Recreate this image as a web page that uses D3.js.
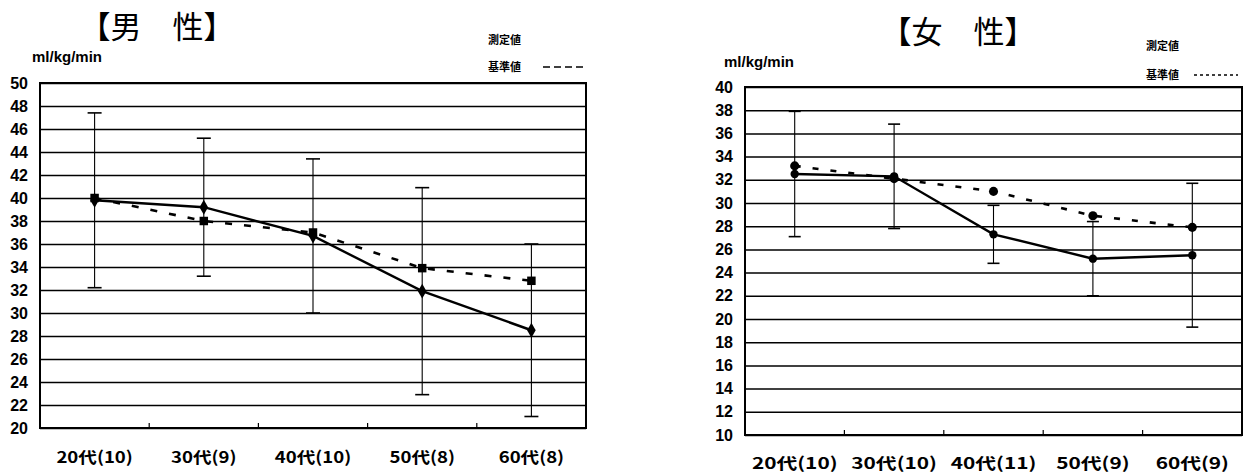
<!DOCTYPE html>
<html>
<head>
<meta charset="utf-8">
<script src="https://cdn.jsdelivr.net/npm/d3@7"></script>
<style>
  html, body { margin: 0; padding: 0; background: #fff; }
  svg { display: block; }
  .yaxis .tick text { font-family: "Liberation Sans", Arial, sans-serif; font-weight: bold; font-size: 16px; fill: #000; }
  .xaxis .tick text { font-family: "Noto Sans CJK JP", sans-serif; font-weight: bold; font-size: 16px; fill: #000; }
</style>
</head>
<body>
<svg id="chart" width="1248" height="475"></svg>
<script>
// 男性: 年代別 最大酸素摂取量 (ml/kg/min)
const maleCategories = ["20代(10)", "30代(9)", "40代(10)", "50代(8)", "60代(8)"];
const maleMeasured   = [39.8, 39.2, 36.7, 31.9, 28.5];   // 測定値 (平均)
const maleSD         = [7.6, 6.0, 6.7, 9.0, 7.5];        // 測定値 (標準偏差)
const maleStandard   = [40.0, 38.0, 37.0, 33.9, 32.8];   // 基準値
const maleTicks      = [20, 22, 24, 26, 28, 30, 32, 34, 36, 38, 40, 42, 44, 46, 48, 50];

// 女性
const femaleCategories = ["20代(10)", "30代(10)", "40代(11)", "50代(9)", "60代(9)"];
const femaleMeasured   = [32.5, 32.3, 27.3, 25.2, 25.5];
const femaleSD         = [5.4, 4.5, 2.5, 3.2, 6.2];
const femaleStandard   = [33.2, 32.1, 31.0, 28.9, 27.9];
const femaleTicks      = [10, 12, 14, 16, 18, 20, 22, 24, 26, 28, 30, 32, 34, 36, 38, 40];

const unitLabel = "ml/kg/min";
const legendMeasured = "測定値";
const legendStandard = "基準値";

const svg = d3.select("#chart");
svg.append("rect").attr("width", 1248).attr("height", 475).attr("fill", "#fff");

function drawPanel(cfg) {
  const g = svg.append("g");
  const x = d3.scaleBand().domain(cfg.categories).range([cfg.left, cfg.right]).padding(0);
  const cx = c => x(c) + x.bandwidth() / 2;
  const y = d3.scaleLinear()
    .domain([cfg.ticks[0], cfg.ticks[cfg.ticks.length - 1]])
    .range([cfg.bottom, cfg.top]);

  // horizontal grid + value labels
  const ya = g.append("g").attr("class", "yaxis")
    .attr("transform", `translate(${cfg.left},0)`)
    .call(d3.axisLeft(y).tickValues(cfg.ticks).tickSize(-(cfg.right - cfg.left))
      .tickPadding(12).tickFormat(d3.format("d")));
  ya.select(".domain").remove();
  ya.selectAll(".tick line").attr("stroke", "#000").attr("stroke-width", 1.5);

  // plot frame
  g.append("rect")
    .attr("x", cfg.left).attr("y", cfg.top)
    .attr("width", cfg.right - cfg.left).attr("height", cfg.bottom - cfg.top)
    .attr("fill", "none").attr("stroke", "#000").attr("stroke-width", 2);

  // small ticks between age groups on the bottom edge
  g.selectAll(".btick").data(cfg.categories.slice(1)).join("line")
    .attr("x1", d => x(d)).attr("x2", d => x(d))
    .attr("y1", cfg.bottom).attr("y2", cfg.bottom - 5)
    .attr("stroke", "#000").attr("stroke-width", 1.2);

  // category labels
  const xa = g.append("g").attr("class", "xaxis")
    .attr("transform", `translate(0,${cfg.bottom})`)
    .call(d3.axisBottom(x).tickSize(0));
  xa.select(".domain").remove();
  xa.selectAll(".tick text")
    .attr("y", cfg.labelOffset).attr("dy", null)
    .each(function () {
      const len = this.getComputedTextLength();
      d3.select(this).attr("textLength", len * cfg.labelStretch)
        .attr("lengthAdjust", "spacingAndGlyphs");
    });

  // error bars (mean ± SD of measured values)
  const eb = g.append("g").attr("stroke", "#000").attr("stroke-width", 1.1);
  cfg.categories.forEach((c, i) => {
    const m = cfg.measured[i], s = cfg.sd[i];
    const px = cx(c);
    eb.append("line").attr("x1", px).attr("x2", px).attr("y1", y(m - s)).attr("y2", y(m + s));
    [m - s, m + s].forEach(v => {
      eb.append("line").attr("x1", px - cfg.cap / 2).attr("x2", px + cfg.cap / 2)
        .attr("y1", y(v)).attr("y2", y(v)).attr("stroke-width", 1.6);
    });
  });

  const line = d3.line().x((d, i) => cx(cfg.categories[i])).y(d => y(d));

  // 基準値 (dashed)
  g.append("path").datum(cfg.standard).attr("d", line)
    .attr("fill", "none").attr("stroke", "#000").attr("stroke-width", 2.6)
    .attr("stroke-dasharray", cfg.dash);

  // 測定値 (solid)
  g.append("path").datum(cfg.measured).attr("d", line)
    .attr("fill", "none").attr("stroke", "#000").attr("stroke-width", 2.4);

  g.selectAll(".mk-std").data(cfg.standard).join("path")
    .attr("transform", (d, i) => `translate(${cx(cfg.categories[i])},${y(d)})`)
    .attr("d", d3.symbol().type(cfg.stdSymbol).size(cfg.stdSize))
    .attr("fill", "#000");

  g.selectAll(".mk-meas").data(cfg.measured).join("path")
    .attr("transform", (d, i) => `translate(${cx(cfg.categories[i])},${y(d)})`)
    .attr("d", d3.symbol().type(cfg.measSymbol).size(cfg.measSize))
    .attr("fill", "#000");

  // titles and legend text
  g.append("text").attr("x", cfg.titleX).attr("y", cfg.titleY)
    .attr("text-anchor", "middle")
    .style("font-family", '"Noto Sans CJK JP", sans-serif')
    .style("font-weight", 400).style("font-size", cfg.titleSize + "px")
    .text(cfg.title);

  g.append("text").attr("x", cfg.unitX).attr("y", cfg.unitY)
    .style("font-family", '"Liberation Sans", Arial, sans-serif')
    .style("font-weight", "bold").style("font-size", "15px")
    .text(unitLabel);

  const lg = g.append("g")
    .style("font-family", '"Noto Sans CJK JP", sans-serif')
    .style("font-weight", "bold").style("font-size", "11px");
  lg.append("text").attr("x", cfg.legendX).attr("y", cfg.legendY1).text(legendMeasured);
  lg.append("text").attr("x", cfg.legendX).attr("y", cfg.legendY2).text(legendStandard);
  g.append("line")
    .attr("x1", cfg.legendLineX1).attr("x2", cfg.legendLineX2)
    .attr("y1", cfg.legendY2 - 4).attr("y2", cfg.legendY2 - 4)
    .attr("stroke", "#000").attr("stroke-width", 1.6)
    .attr("stroke-dasharray", cfg.legendDash);
}

drawPanel({
  categories: maleCategories, measured: maleMeasured, sd: maleSD, standard: maleStandard,
  ticks: maleTicks,
  left: 40, right: 586, top: 83, bottom: 428,
  labelOffset: 35, labelStretch: 1.16,
  cap: 14, dash: "7,12",
  measSymbol: d3.symbolDiamond, measSize: 64,
  stdSymbol: d3.symbolSquare, stdSize: 72,
  title: "【男　性】", titleX: 157, titleY: 38, titleSize: 31,
  unitX: 32, unitY: 62,
  legendX: 488, legendY1: 44, legendY2: 71, legendLineX1: 543, legendLineX2: 585, legendDash: "7,4"
});

drawPanel({
  categories: femaleCategories, measured: femaleMeasured, sd: femaleSD, standard: femaleStandard,
  ticks: femaleTicks,
  left: 745, right: 1242, top: 87, bottom: 435,
  labelOffset: 34, labelStretch: 1.3,
  cap: 12, dash: "6,12",
  measSymbol: d3.symbolCircle, measSize: 55,
  stdSymbol: d3.symbolCircle, stdSize: 65,
  title: "【女　性】", titleX: 958, titleY: 43, titleSize: 31,
  unitX: 724, unitY: 67,
  legendX: 1146, legendY1: 50, legendY2: 79, legendLineX1: 1194, legendLineX2: 1238, legendDash: "3,3"
});
</script>
</body>
</html>
